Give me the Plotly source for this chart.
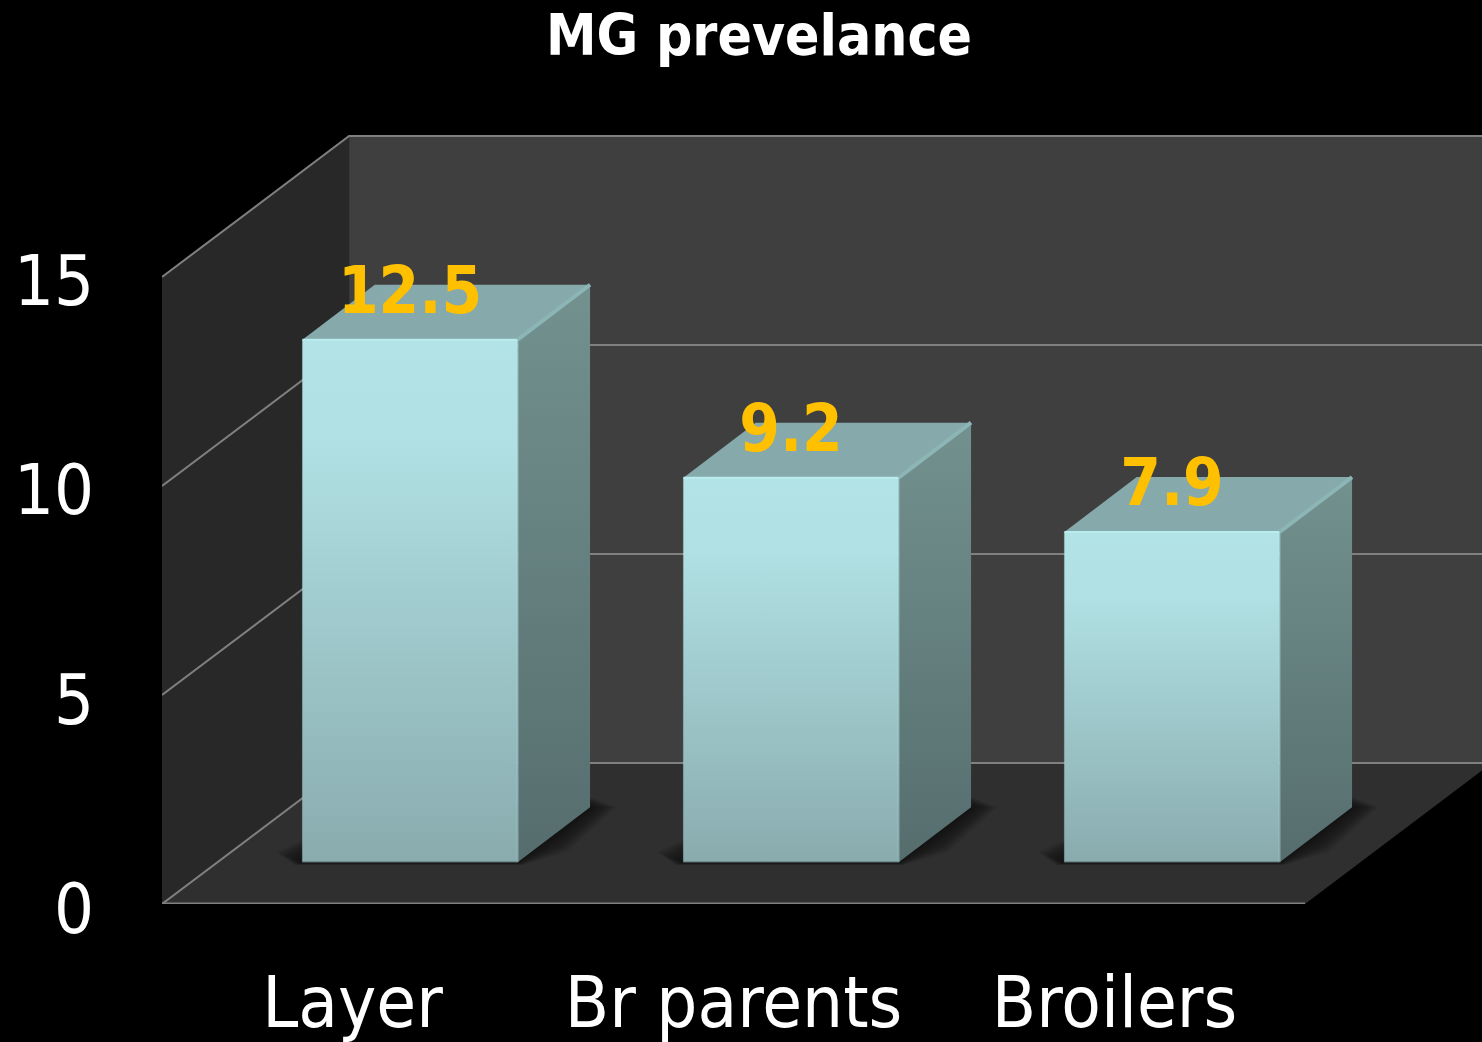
import plotly.graph_objects as go

CATEGORIES = ["Layer", "Br parents", "Broilers"]
VALUES = [12.5, 9.2, 7.9]
VALUE_LABELS = ["12.5", "9.2", "7.9"]
Y_TICKS = [0, 5, 10, 15]
TITLE = "MG prevelance"

# Oblique projection: how far the depth axis of the box runs, in axis units
WALL_DX, WALL_DY = 0.491, 3.373
BAR_SHIFT_X, BAR_SHIFT_Y = 0.151, 1.0
BAR_DX, BAR_DY = 0.19, 1.314
BAR_HALF = 0.2825
X_MIN, X_MAX = -0.5, 2.5
X_VIEW_MAX = 2.9646
Y_VIEW_MAX = 19.234
LABEL_LIFT = 1.03

FONT = "DejaVu Sans Condensed"
GRID = "#808080"
SHADOW_STEPS = 20

fig = go.Figure()


def polygon(xs, ys, color=None, gradient=None):
    kw = dict(fillgradient=gradient) if gradient else dict(fillcolor=color)
    fig.add_trace(go.Scatter(x=list(xs) + [xs[0]], y=list(ys) + [ys[0]], mode="lines",
                             fill="toself", line=dict(width=0), hoverinfo="skip",
                             showlegend=False, **kw))


def line(xs, ys, color=GRID, width=2):
    fig.add_trace(go.Scatter(x=xs, y=ys, mode="lines", line=dict(color=color, width=width),
                             hoverinfo="skip", showlegend=False))


top = Y_TICKS[-1]

# Box walls and floor
polygon([X_MIN + WALL_DX, X_MAX + WALL_DX, X_MAX + WALL_DX, X_MIN + WALL_DX],
        [WALL_DY, WALL_DY, top + WALL_DY, top + WALL_DY], "#3f3f3f")
polygon([X_MIN, X_MIN + WALL_DX, X_MIN + WALL_DX, X_MIN],
        [0, WALL_DY, top + WALL_DY, top], "#282828")
polygon([X_MIN, X_MAX, X_MAX + WALL_DX, X_MIN + WALL_DX],
        [0, 0, WALL_DY, WALL_DY], "#2f2f2f")

# Gridlines wrap around the side wall and the back wall
for v in Y_TICKS:
    line([X_MIN, X_MIN + WALL_DX, X_MAX + WALL_DX], [v, v + WALL_DY, v + WALL_DY])
line([X_MIN, X_MAX], [0, 0], width=3)

# Soft contact shadows on the floor, built up from nested translucent outlines
for i in range(SHADOW_STEPS):
    step = 1 - i / SHADOW_STEPS
    for c in range(len(CATEGORIES)):
        xl = c + BAR_SHIFT_X - BAR_HALF
        xr = c + BAR_SHIFT_X + BAR_HALF
        y0 = BAR_SHIFT_Y
        spread_x, spread_y = 0.07 * step, 0.42 * step
        polygon([xl - spread_x, xl - spread_x * 0.3, xr + 0.012 * step,
                 xr + BAR_DX * 0.5 + spread_x * 0.5, xr + BAR_DX + spread_x,
                 xr + BAR_DX, xl + BAR_DX],
                [y0 + 0.25 * step, y0 - 0.07 * step, y0 - 0.07 * step,
                 y0 + BAR_DY * 0.5 - spread_y, y0 + BAR_DY,
                 y0 + BAR_DY + 0.25 * step, y0 + BAR_DY],
                "rgba(0,0,0,0.032)")

# Bars: front face, side face, top face, then the bevel highlights
for c, v in enumerate(VALUES):
    xl = c + BAR_SHIFT_X - BAR_HALF
    xr = c + BAR_SHIFT_X + BAR_HALF
    y0 = BAR_SHIFT_Y
    y1 = v + BAR_SHIFT_Y
    polygon([xr, xr + BAR_DX, xr + BAR_DX, xr],
            [y0, y0 + BAR_DY, y1 + BAR_DY, y1],
            gradient=dict(type="vertical", start=y0, stop=y1 + BAR_DY,
                          colorscale=[[0, "#566d6e"], [1, "#72918f"]]))
    polygon([xl, xr, xr + BAR_DX, xl + BAR_DX],
            [y1, y1, y1 + BAR_DY, y1 + BAR_DY], "#86a9ab")
    polygon([xl, xr, xr, xl], [y0, y0, y1, y1],
            gradient=dict(type="vertical", start=y0, stop=y1,
                          colorscale=[[0, "#89abae"], [0.8, "#b0e0e3"], [1, "#b2e3e6"]]))
    line([xl, xr], [y1, y1], "#b8ecee", 2)
    line([xr, xr], [y1, y0], "rgba(190,240,240,0.35)", 2)
    line([xr, xr + BAR_DX], [y1, y1 + BAR_DY], "#8cb5b6", 4)
    line([xl, xl], [y0, y1], "rgba(190,240,240,0.25)", 1)
    line([xl, xr], [y0, y0], "#3a4849", 1)

# Value labels above each bar
fig.add_trace(go.Scatter(
    x=[c + BAR_SHIFT_X for c in range(len(VALUES))],
    y=[v + BAR_SHIFT_Y + LABEL_LIFT for v in VALUES],
    mode="text", text=VALUE_LABELS, textposition="middle center",
    textfont=dict(family=FONT, size=65, color="#ffc000", weight="bold"),
    hoverinfo="skip", showlegend=False))

fig.update_layout(
    width=1482, height=1042, autosize=False,
    paper_bgcolor="#000000", plot_bgcolor="#000000",
    margin=dict(l=162, r=0, t=100, b=138),
    showlegend=False,
    title=dict(text=f"<b>{TITLE}</b>", x=759 / 1482, xanchor="center", y=1 - 35 / 1042,
               yanchor="middle", font=dict(family=FONT, size=56.5, color="#ffffff")),
    xaxis=dict(range=[X_MIN, X_VIEW_MAX], tickmode="array",
               tickvals=list(range(len(CATEGORIES))), ticktext=CATEGORIES,
               showgrid=False, zeroline=False, showline=False, ticks="",
               ticklabelstandoff=50, automargin=False,
               tickfont=dict(family=FONT, size=72, color="#ffffff")),
    yaxis=dict(range=[0, Y_VIEW_MAX], tickmode="array", tickvals=Y_TICKS,
               ticktext=[str(t) for t in Y_TICKS],
               showgrid=False, zeroline=False, showline=False, ticks="",
               ticklabelstandoff=67, ticklabelshift=4, automargin=False,
               tickfont=dict(family=FONT, size=70, color="#ffffff")),
)

fig.write_html("out.html")
